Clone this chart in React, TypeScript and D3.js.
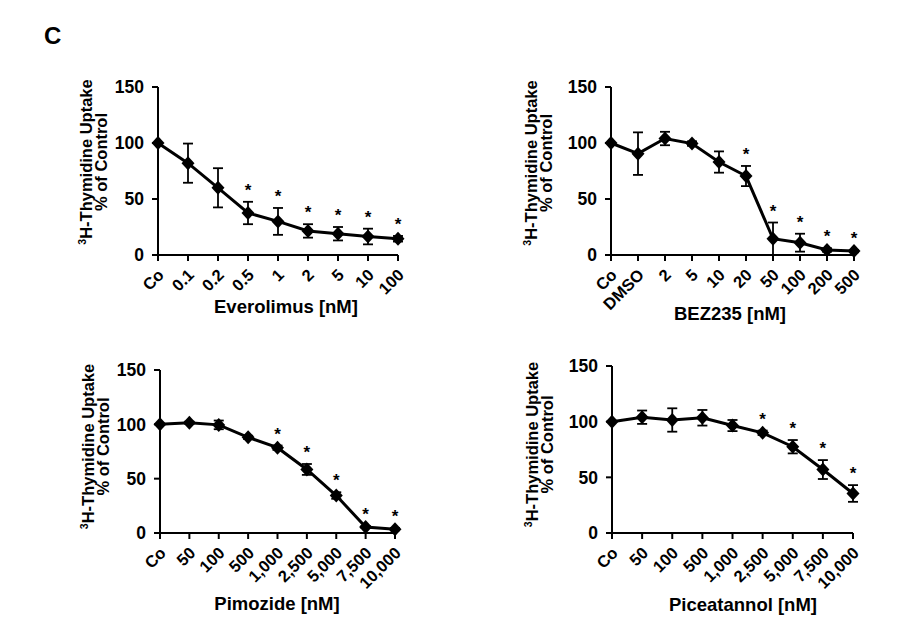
import React from "react";
import * as d3 from "d3";

// ---------- data ----------
const everolimusLabels = ["Co", "0.1", "0.2", "0.5", "1", "2", "5", "10", "100"];
const everolimusMean = [100, 82, 60, 37.5, 30, 21.5, 19, 16.5, 14.5];
const everolimusErr = [0, 17.5, 17.5, 10, 12, 6, 6, 7, 2.5];
const everolimusSig = [0, 0, 0, 1, 1, 1, 1, 1, 1];

const bezLabels = ["Co", "DMSO", "2", "5", "10", "20", "50", "100", "200", "500"];
const bezMean = [100, 90.5, 104, 99.5, 83, 70.5, 14.5, 11, 4.5, 3.5];
const bezErr = [0, 19, 6, 2, 9.5, 9, 14.5, 8, 1.5, 1];
const bezSig = [0, 0, 0, 0, 0, 1, 1, 1, 1, 1];

const pimozideLabels = ["Co", "50", "100", "500", "1,000", "2,500", "5,000", "7,500", "10,000"];
const pimozideMean = [100, 101.5, 99.5, 88, 78.5, 58.5, 34.5, 5.5, 3.5];
const pimozideErr = [0, 1, 4, 1.5, 2, 5, 3, 1, 1];
const pimozideSig = [0, 0, 0, 0, 1, 1, 1, 1, 1];

const piceatannolLabels = ["Co", "50", "100", "500", "1,000", "2,500", "5,000", "7,500", "10,000"];
const piceatannolMean = [100, 104, 101.5, 103.5, 96.5, 90, 77.5, 57, 35.5];
const piceatannolErr = [0, 6, 10.5, 7, 5, 2, 6, 8.5, 7.5];
const piceatannolSig = [0, 0, 0, 0, 0, 1, 1, 1, 1];

const yTicks = [0, 50, 100, 150];
const titles = ["Everolimus [nM]", "BEZ235 [nM]", "Pimozide [nM]", "Piceatannol [nM]"];

// ---------- layout ----------
const layouts = [
  { x0: 158, x1: 398, yTop: 87, yBot: 255, tx: 286, ty: 313, l1: -66, l2: -51, lc: -9 },
  { x0: 611, x1: 854, yTop: 87, yBot: 255, tx: 730, ty: 320, l1: -74, l2: -59, lc: -8 },
  { x0: 160, x1: 395, yTop: 370, yBot: 533, tx: 277, ty: 610, l1: -66, l2: -51, lc: -5 },
  { x0: 612, x1: 853, yTop: 366, yBot: 533, tx: 743, ty: 611, l1: -74, l2: -59, lc: -5 },
];

const FONT = "'Liberation Sans', Arial, Helvetica, sans-serif";

type PanelProps = {
  labels: string[];
  mean: number[];
  err: number[];
  sig: number[];
  title: string;
  lay: typeof layouts[number];
};

function Panel({ labels, mean, err, sig, title, lay }: PanelProps) {
  const x = d3.scalePoint<string>().domain(labels).range([lay.x0, lay.x1]).padding(0);
  const y = d3.scaleLinear().domain([0, 150]).range([lay.yBot, lay.yTop]);
  const pts = labels.map((l, i) => [x(l) as number, y(mean[i])] as [number, number]);
  const line = d3.line()(pts) || "";
  const diamond = (cx: number, cy: number) =>
    `M${cx},${cy - 7}L${cx + 6.5},${cy}L${cx},${cy + 7}L${cx - 6.5},${cy}Z`;
  const yMid = (lay.yTop + lay.yBot) / 2 + lay.lc;
  return (
    <g fontFamily={FONT} fontWeight="bold" fill="#000">
      {/* axes */}
      <line x1={lay.x0} x2={lay.x0} y1={lay.yTop} y2={lay.yBot} stroke="#000" strokeWidth={2} />
      <line x1={lay.x0} x2={lay.x1} y1={lay.yBot} y2={lay.yBot} stroke="#000" strokeWidth={2} />
      {yTicks.map((t) => (
        <g key={"y" + t}>
          <line x1={lay.x0 - 6} x2={lay.x0} y1={y(t)} y2={y(t)} stroke="#000" strokeWidth={2} />
          <text x={lay.x0 - 14} y={y(t)} dy="0.36em" textAnchor="end" fontSize={17.5}>
            {t}
          </text>
        </g>
      ))}
      {labels.map((l) => (
        <g key={"x" + l}>
          <line x1={x(l)} x2={x(l)} y1={lay.yBot} y2={lay.yBot + 6} stroke="#000" strokeWidth={2} />
          <text
            transform={`translate(${(x(l) as number) + 7},${lay.yBot + 21}) rotate(-45)`}
            textAnchor="end"
            fontSize={16.5}
          >
            {l}
          </text>
        </g>
      ))}
      {/* y label */}
      <text
        transform={`translate(${lay.x0 + lay.l1},${yMid}) rotate(-90)`}
        textAnchor="middle"
        fontSize={16.5}
      >
        <tspan fontSize={10.5} dy={-6}>3</tspan>
        <tspan dy={6}>H-Thymidine Uptake</tspan>
      </text>
      <text
        transform={`translate(${lay.x0 + lay.l2},${yMid}) rotate(-90)`}
        textAnchor="middle"
        fontSize={16.5}
      >
        % of Control
      </text>
      {/* title */}
      <text x={lay.tx} y={lay.ty} textAnchor="middle" fontSize={18.5}>
        {title}
      </text>
      {/* error bars */}
      {labels.map((l, i) =>
        err[i] > 0 ? (
          <g key={"e" + l} stroke="#000" strokeWidth={1.8}>
            <line x1={x(l)} x2={x(l)} y1={y(mean[i] + err[i])} y2={y(Math.max(0, mean[i] - err[i]))} />
            <line x1={(x(l) as number) - 5} x2={(x(l) as number) + 5} y1={y(mean[i] + err[i])} y2={y(mean[i] + err[i])} />
            <line
              x1={(x(l) as number) - 5}
              x2={(x(l) as number) + 5}
              y1={y(Math.max(0, mean[i] - err[i]))}
              y2={y(Math.max(0, mean[i] - err[i]))}
            />
          </g>
        ) : null
      )}
      <path d={line} fill="none" stroke="#000" strokeWidth={3} />
      {pts.map(([cx, cy], i) => (
        <path key={"m" + i} d={diamond(cx, cy)} fill="#000" />
      ))}
      {/* significance */}
      {labels.map((l, i) =>
        sig[i] ? (
          <text key={"s" + l} x={x(l)} y={y(mean[i] + err[i]) - 16 + 10} textAnchor="middle" fontSize={17}>
            *
          </text>
        ) : null
      )}
    </g>
  );
}

export default function App() {
  const sets = [
    [everolimusLabels, everolimusMean, everolimusErr, everolimusSig],
    [bezLabels, bezMean, bezErr, bezSig],
    [pimozideLabels, pimozideMean, pimozideErr, pimozideSig],
    [piceatannolLabels, piceatannolMean, piceatannolErr, piceatannolSig],
  ] as [string[], number[], number[], number[]][];
  return (
    <svg
      width={898}
      height={633}
      viewBox="0 0 898 633"
      style={{ position: "absolute", left: 0, top: 0, background: "#fff" }}
    >
      <rect width={898} height={633} fill="#fff" />
      <text x={44} y={44} fontFamily={FONT} fontWeight="bold" fontSize={24}>
        C
      </text>
      {sets.map((s, i) => (
        <Panel key={i} labels={s[0]} mean={s[1]} err={s[2]} sig={s[3]} title={titles[i]} lay={layouts[i]} />
      ))}
    </svg>
  );
}
